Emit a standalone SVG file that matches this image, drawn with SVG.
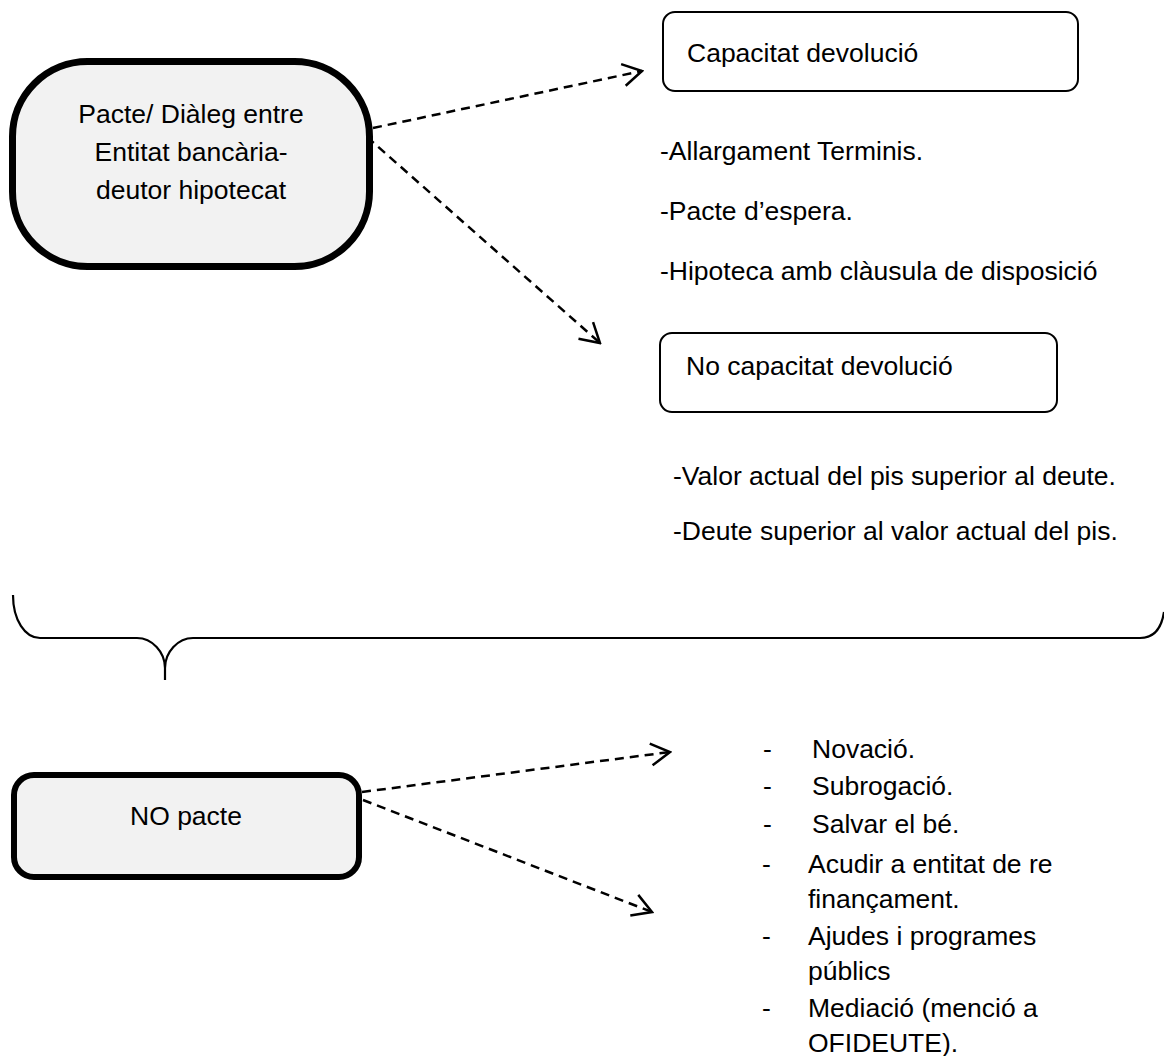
<svg xmlns="http://www.w3.org/2000/svg" width="1164" height="1056" viewBox="0 0 1164 1056">
<style>
text{font-family:"Liberation Sans",Arial,sans-serif;font-size:26.5px;fill:#000}
.mid{text-anchor:middle}
.thick{fill:#f2f2f2;stroke:#000}
.thin{fill:#fff;stroke:#000;stroke-width:2}
.dash{fill:none;stroke:#000;stroke-width:2.5;stroke-dasharray:9 6}
</style>
<defs>
<marker id="ah" markerUnits="userSpaceOnUse" viewBox="-22 -14 24 28" refX="0" refY="0" markerWidth="24" markerHeight="28" orient="auto">
<path d="M-19,-11 L0,0 L-19,11" fill="none" stroke="#000" stroke-width="2.5"/>
</marker>
</defs>
<rect width="1164" height="1056" fill="#fff"/>
<g id="n-pacte">
<rect class="thick" x="12.5" y="61.5" width="357" height="205" rx="75" stroke-width="7"/>
<text class="mid" x="191" y="123">Pacte/ Diàleg entre</text>
<text class="mid" x="191" y="161">Entitat bancària-</text>
<text class="mid" x="191" y="199">deutor hipotecat</text>
</g>
<g id="n-capacitat">
<rect class="thin" x="663" y="12" width="415" height="79" rx="12"/>
<text x="687" y="62">Capacitat devolució</text>
</g>
<g id="t-capacitat-items">
<text x="660" y="160">-Allargament Terminis.</text>
<text x="660" y="220">-Pacte d’espera.</text>
<text x="660" y="280">-Hipoteca amb clàusula de disposició</text>
</g>
<g id="n-nocapacitat">
<rect class="thin" x="660" y="333" width="397" height="79" rx="12"/>
<text x="686" y="375">No capacitat devolució</text>
</g>
<g id="t-nocapacitat-items">
<text x="673" y="485">-Valor actual del pis superior al deute.</text>
<text x="673" y="540">-Deute superior al valor actual del pis.</text>
</g>
<g id="brace">
<path d="M13,595 C13,620 25,638 40,638 L137,638 C152,638 165,652 165,668 L165,680 L165,668 C165,652 178,638 193,638 L1140,638 Q1160,638 1164,612" fill="none" stroke="#000" stroke-width="2.2"/>
</g>
<g id="n-nopacte">
<rect class="thick" x="14" y="775" width="345" height="102" rx="20" stroke-width="6"/>
<text class="mid" x="186" y="825">NO pacte</text>
</g>
<g id="t-nopacte-items">
<text x="763" y="758">-</text><text x="812" y="758">Novació.</text>
<text x="763" y="795">-</text><text x="812" y="795">Subrogació.</text>
<text x="763" y="833">-</text><text x="812" y="833">Salvar el bé.</text>
<text x="762" y="873">-</text><text x="808" y="873">Acudir a entitat de re</text>
<text x="808" y="908">finançament.</text>
<text x="762" y="945">-</text><text x="808" y="945">Ajudes i programes</text>
<text x="808" y="980">públics</text>
<text x="762" y="1017">-</text><text x="808" y="1017">Mediació (menció a</text>
<text x="808" y="1052">OFIDEUTE).</text>
</g>
<g id="connectors">
<line class="dash" x1="373" y1="128" x2="642" y2="71" marker-end="url(#ah)"/>
<line class="dash" x1="367" y1="137" x2="600" y2="343" marker-end="url(#ah)"/>
<line class="dash" x1="362" y1="792" x2="670" y2="752" marker-end="url(#ah)"/>
<line class="dash" x1="363" y1="800" x2="652" y2="912" marker-end="url(#ah)"/>
</g>
</svg>
